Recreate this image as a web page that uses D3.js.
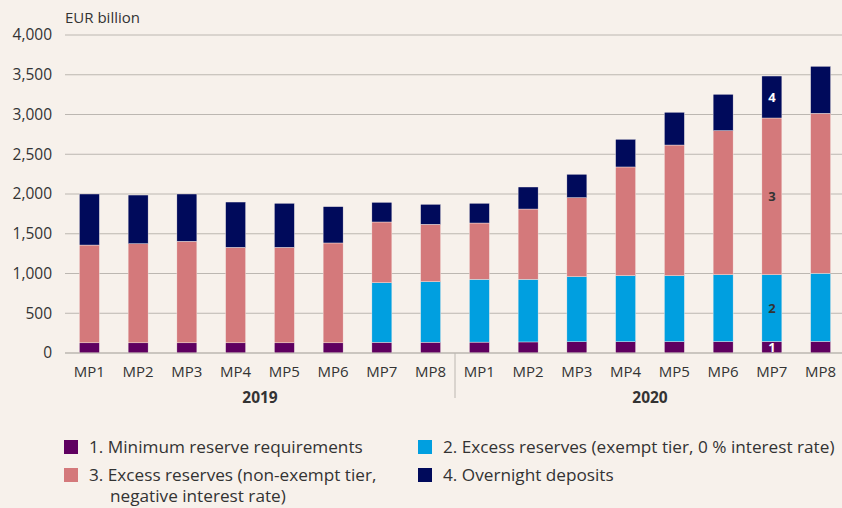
<!DOCTYPE html>
<html>
<head>
<meta charset="utf-8">
<script src="https://cdn.jsdelivr.net/npm/d3@7"></script>
<style>
    body { margin: 0; background: #f7f1eb; }
    svg { display: block; font-family: "Open Sans", Lato, sans-serif; }
</style>
</head>
<body>
<script>
let width = 842,
    height = 508,
    marginLeft = 65,
    plotRight = 845,
    plotTop = 35,
    plotBottom = 353;

// maintenance periods, two years
let periods = ["MP1", "MP2", "MP3", "MP4", "MP5", "MP6", "MP7", "MP8",
               "MP1", "MP2", "MP3", "MP4", "MP5", "MP6", "MP7", "MP8"];
let years = ["2019", "2020"];

// EUR billion
let minReserves = [128, 128, 128, 128, 128, 128, 135, 136, 137, 139, 141, 142, 143, 144, 145, 146];
let exemptTier = [0, 0, 0, 0, 0, 0, 749, 761, 790, 788, 819, 831, 830, 841, 840, 856];
let nonExemptTier = [1230, 1247, 1277, 1201, 1201, 1256, 764, 722, 708, 884, 994, 1367, 1643, 1812, 1971, 2013];
let overnightDeposits = [642, 612, 595, 570, 554, 457, 247, 251, 248, 277, 294, 348, 412, 457, 528, 591];

let yTicks = [0, 500, 1000, 1500, 2000, 2500, 3000, 3500, 4000];

let seriesNames = ["1. Minimum reserve requirements",
                   "2. Excess reserves (exempt tier, 0 % interest rate)",
                   "3. Excess reserves (non-exempt tier, negative interest rate)",
                   "4. Overnight deposits"];
let colors = ["#5f0060", "#009fe0", "#d4797b", "#000a5b"];
let keys = ["min", "exempt", "nonexempt", "overnight"];

// table for d3.stack
let table = periods.map((p, i) => ({
    i: i,
    min: minReserves[i],
    exempt: exemptTier[i],
    nonexempt: nonExemptTier[i],
    overnight: overnightDeposits[i]
}));

let stacked = d3.stack().keys(keys)(table);

let svg = d3.select("body").append("svg")
    .attr("width", width)
    .attr("height", height);

let x = d3.scaleBand()
    .domain(d3.range(periods.length))
    .range([marginLeft, plotRight])
    .paddingInner(0.59)
    .paddingOuter(0.295);

let y = d3.scaleLinear()
    .domain([0, 4000])
    .range([plotBottom, plotTop]);

// gridlines
svg.append("g")
    .selectAll("line")
    .data(yTicks)
    .enter()
    .append("line")
    .attr("x1", marginLeft)
    .attr("x2", width)
    .attr("y1", d => y(d))
    .attr("y2", d => y(d))
    .attr("stroke", "#bcb7b1")
    .attr("stroke-width", 1);

// y tick labels
svg.append("g")
    .selectAll("text")
    .data(yTicks)
    .enter()
    .append("text")
    .attr("x", 52)
    .attr("y", d => y(d))
    .attr("dy", "0.35em")
    .attr("text-anchor", "end")
    .attr("font-size", 15.5)
    .attr("fill", "#333")
    .text(d => d3.format(",")(d));

svg.append("text")
    .attr("x", marginLeft)
    .attr("y", 23)
    .attr("font-size", 15)
    .attr("fill", "#333")
    .text("EUR billion");

// bars
let layer = svg.append("g")
    .selectAll("g")
    .data(stacked)
    .enter()
    .append("g")
    .attr("fill", (d, i) => colors[i]);

layer.selectAll("rect")
    .data(d => d)
    .enter()
    .append("rect")
    .attr("x", d => x(d.data.i))
    .attr("width", x.bandwidth())
    .attr("y", d => y(d[1]))
    .attr("height", d => y(d[0]) - y(d[1]))
    .attr("stroke", "#f7f1eb")
    .attr("stroke-width", 0.4);

// numbers inside MP7 2020
let labelled = 14;
let labelColors = ["#fff", "#333", "#333", "#fff"];
svg.append("g")
    .selectAll("text")
    .data(stacked)
    .enter()
    .append("text")
    .attr("x", x(labelled) + x.bandwidth() / 2)
    .attr("y", d => y((d[labelled][0] + d[labelled][1]) / 2))
    .attr("dy", "0.36em")
    .attr("text-anchor", "middle")
    .attr("font-size", 13)
    .attr("font-weight", "bold")
    .attr("fill", (d, i) => labelColors[i])
    .text((d, i) => i + 1);

// x axis baseline
svg.append("line")
    .attr("x1", marginLeft)
    .attr("x2", width)
    .attr("y1", y(0))
    .attr("y2", y(0))
    .attr("stroke", "#bcb7b1");

// separator between years
let sepX = (x(7) + x.bandwidth() + x(8)) / 2;
svg.append("line")
    .attr("x1", sepX)
    .attr("x2", sepX)
    .attr("y1", y(0))
    .attr("y2", 398)
    .attr("stroke", "#bcb7b1");

// period labels
svg.append("g")
    .selectAll("text")
    .data(periods)
    .enter()
    .append("text")
    .attr("x", (d, i) => x(i) + x.bandwidth() / 2)
    .attr("y", 372)
    .attr("dy", "0.35em")
    .attr("text-anchor", "middle")
    .attr("font-size", 15)
    .attr("fill", "#333")
    .text(d => d);

// year labels
svg.append("g")
    .selectAll("text")
    .data(years)
    .enter()
    .append("text")
    .attr("x", (d, i) => (x(i * 8) + x(i * 8 + 7) + x.bandwidth()) / 2)
    .attr("y", 398)
    .attr("dy", "0.35em")
    .attr("text-anchor", "middle")
    .attr("font-size", 15.5)
    .attr("font-weight", "bold")
    .attr("fill", "#333")
    .text(d => d);

// legend: order 1, 2 / 3, 4
let legendPos = [
    { x: 64, y: 440, lines: [seriesNames[0]] },
    { x: 418, y: 440, lines: [seriesNames[1]] },
    { x: 64, y: 468, lines: ["3. Excess reserves (non-exempt tier,", "negative interest rate)"] },
    { x: 418, y: 468, lines: [seriesNames[3]] }
];

let legend = svg.append("g")
    .selectAll("g")
    .data(legendPos)
    .enter()
    .append("g")
    .attr("transform", d => `translate(${d.x}, ${d.y})`);

legend.append("rect")
    .attr("width", 14)
    .attr("height", 14)
    .attr("fill", (d, i) => colors[i]);

legend.each(function (d) {
    let t = d3.select(this).append("text")
        .attr("font-size", 17.2)
        .attr("fill", "#333");
    d.lines.forEach((line, k) => {
        t.append("tspan")
            .attr("x", k == 0 ? 25 : 46)
            .attr("y", 7 + k * 21)
            .attr("dy", "0.35em")
            .text(line);
    });
});
</script>
</body>
</html>
